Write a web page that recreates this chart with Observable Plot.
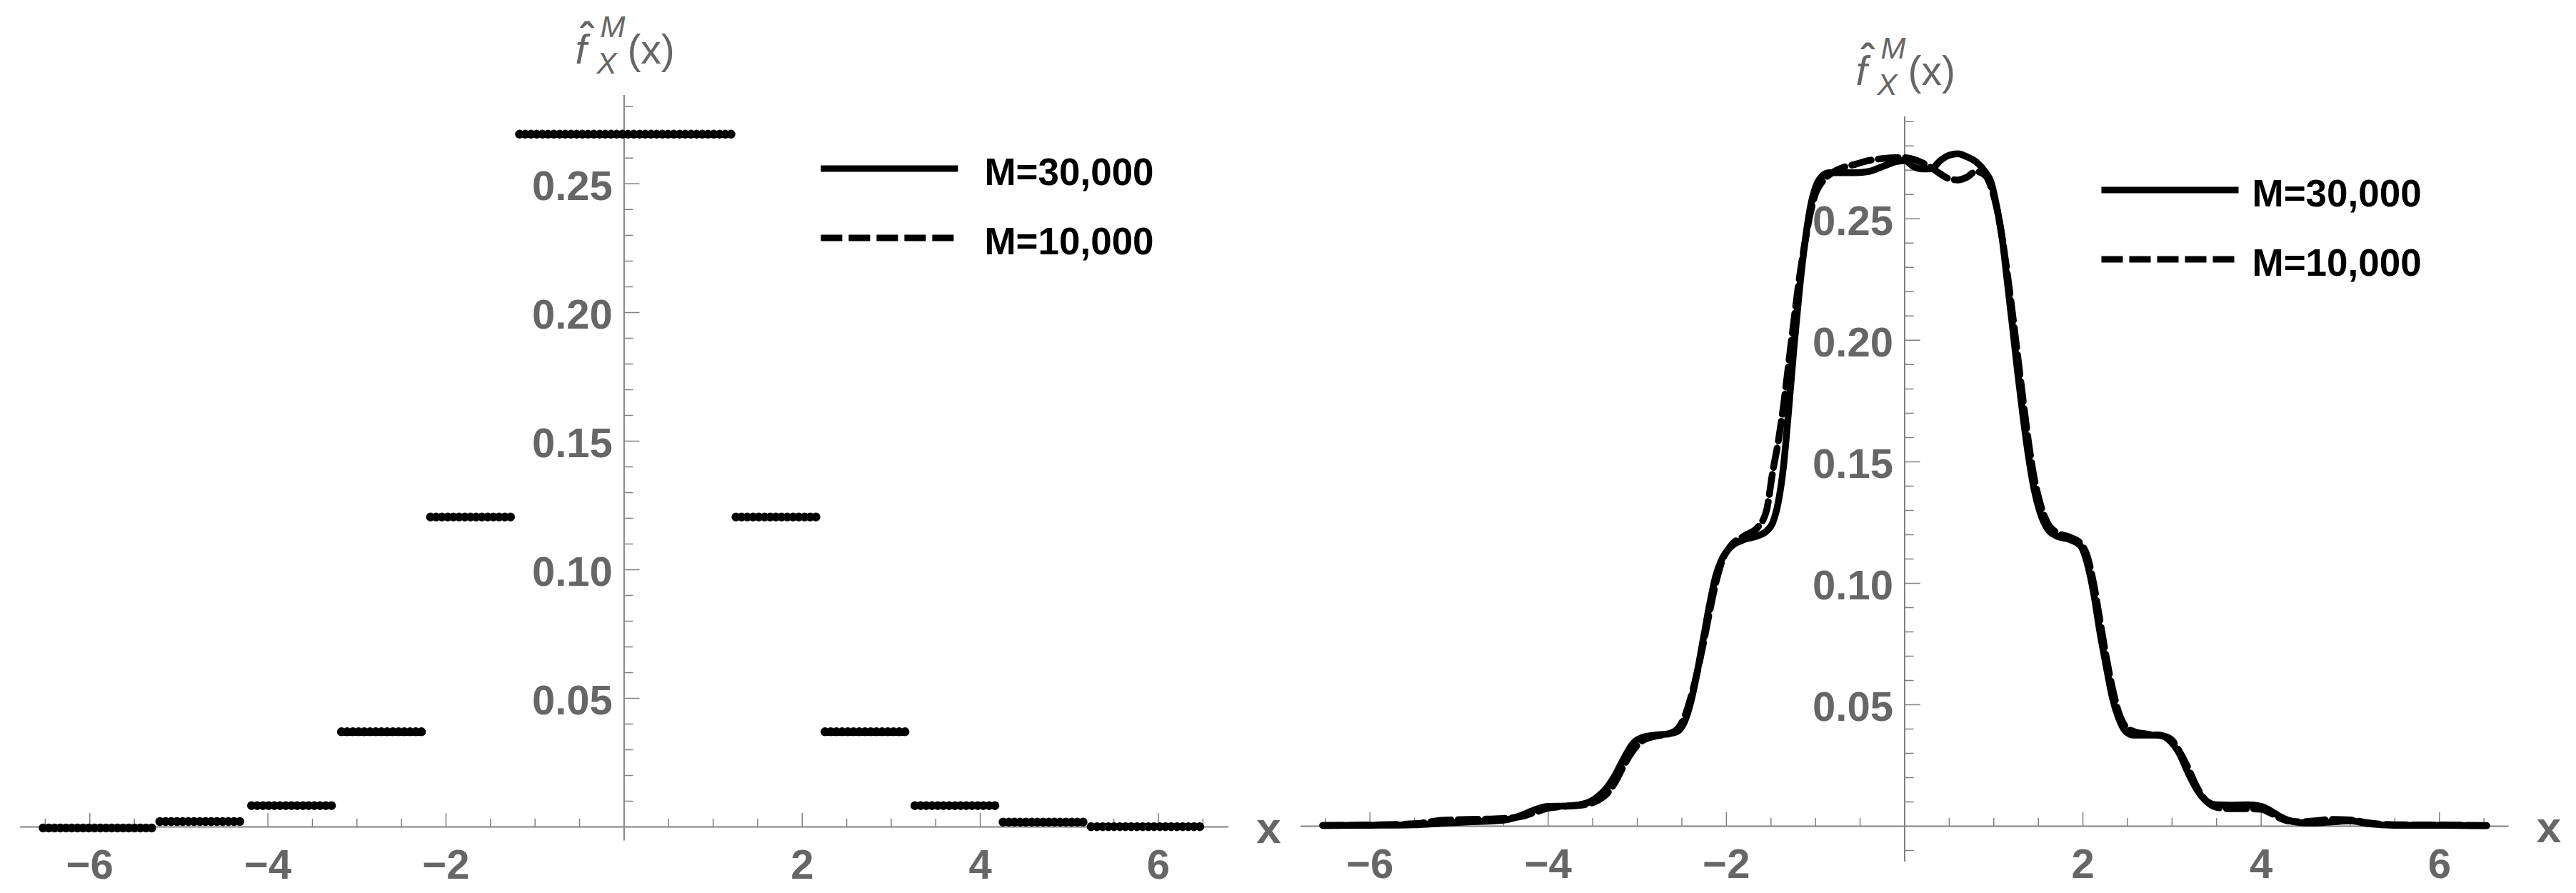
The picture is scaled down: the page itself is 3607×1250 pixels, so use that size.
<!DOCTYPE html>
<html>
<head>
<meta charset="utf-8">
<script src="https://cdn.jsdelivr.net/npm/d3@7"></script>
<script src="https://cdn.jsdelivr.net/npm/@observablehq/plot@0.6"></script>
<style>
  html, body { margin: 0; padding: 0; background: #ffffff; }
  #wrap { display: flex; width: 3607px; height: 1250px; background: #ffffff; }
  #wrap svg { display: block; }
</style>
</head>
<body>
<div id="wrap"></div>
<script>
// ---------------- data ----------------
// Left panel: piecewise-constant estimate, one row of dots per bin (first/last dot centre, height)
const stepStart  = [-6.52, -5.21, -4.18, -3.17, -2.17, -1.17, 1.26, 2.26, 3.27, 4.26, 5.25];
const stepEnd    = [-5.26, -4.27, -3.24, -2.25, -1.23,  1.21, 2.21, 3.17, 4.19, 5.19, 6.48];
const stepHeight = [-0.0004, 0.0021, 0.0083, 0.0370, 0.1205, 0.2693, 0.1205, 0.0370, 0.0083, 0.0019, 0.0001];

// Right panel: smooth estimates for the two sample sizes
const xs = [-6.53, -6.0, -5.5, -5.2, -4.9, -4.6, -4.45, -4.3, -4.15, -4.0,
            -3.8, -3.6, -3.45, -3.35, -3.25, -3.15, -3.05, -2.95, -2.8, -2.65,
            -2.55, -2.47, -2.4, -2.33, -2.26, -2.19, -2.12, -2.05, -1.95, -1.8,
            -1.65, -1.55, -1.48, -1.42, -1.36, -1.3, -1.24, -1.18, -1.12, -1.06,
            -1.0, -0.93, -0.85, -0.7, -0.55, -0.4, -0.25, -0.1, 0.0, 0.1,
            0.2, 0.3, 0.4, 0.5, 0.6, 0.7, 0.8, 0.9, 0.97, 1.03,
            1.09, 1.15, 1.21, 1.27, 1.33, 1.39, 1.45, 1.52, 1.6, 1.7,
            1.85, 1.97, 2.05, 2.12, 2.19, 2.26, 2.33, 2.4, 2.48, 2.57,
            2.7, 2.85, 2.98, 3.08, 3.18, 3.28, 3.38, 3.5, 3.65, 3.85,
            4.0, 4.1, 4.2, 4.3, 4.45, 4.6, 4.8, 5.0, 5.2, 5.5,
            6.0, 6.53];
const y30000 = [0.0003, 0.0004, 0.0006, 0.0012, 0.0018, 0.0022, 0.0028, 0.0045, 0.0068, 0.0082,
                0.0083, 0.0092, 0.0120, 0.0155, 0.0210, 0.0280, 0.0340, 0.0365, 0.0375, 0.0380,
                0.0390, 0.0430, 0.0510, 0.0630, 0.0770, 0.0910, 0.1030, 0.1100, 0.1150, 0.1180,
                0.1195, 0.1215, 0.1250, 0.1330, 0.1480, 0.1720, 0.1980, 0.2210, 0.2400, 0.2545,
                0.2630, 0.2675, 0.2690, 0.2690, 0.2690, 0.2695, 0.2715, 0.2735, 0.2740, 0.2715,
                0.2705, 0.2706, 0.2740, 0.2762, 0.2768, 0.2755, 0.2735, 0.2695, 0.2650, 0.2555,
                0.2430, 0.2245, 0.2055, 0.1860, 0.1680, 0.1520, 0.1390, 0.1290, 0.1225, 0.1195,
                0.1180, 0.1155, 0.1080, 0.0960, 0.0800, 0.0660, 0.0530, 0.0445, 0.0390, 0.0375,
                0.0375, 0.0375, 0.0350, 0.0300, 0.0220, 0.0150, 0.0105, 0.0088, 0.0087, 0.0088,
                0.0082, 0.0065, 0.0042, 0.0025, 0.0014, 0.0013, 0.0018, 0.0022, 0.0010, 0.0004,
                0.0004, 0.0002];
const y10000 = [0.0003, 0.0005, 0.0010, 0.0024, 0.0028, 0.0030, 0.0033, 0.0040, 0.0057, 0.0074,
                0.0082, 0.0088, 0.0105, 0.0130, 0.0180, 0.0250, 0.0310, 0.0350, 0.0370, 0.0380,
                0.0400, 0.0450, 0.0530, 0.0630, 0.0750, 0.0880, 0.1000, 0.1090, 0.1155, 0.1195,
                0.1230, 0.1300, 0.1460, 0.1580, 0.1730, 0.1910, 0.2090, 0.2260, 0.2400, 0.2520,
                0.2605, 0.2650, 0.2680, 0.2710, 0.2725, 0.2740, 0.2748, 0.2752, 0.2752, 0.2745,
                0.2730, 0.2710, 0.2685, 0.2665, 0.2660, 0.2672, 0.2695, 0.2680, 0.2630, 0.2550,
                0.2430, 0.2280, 0.2110, 0.1930, 0.1750, 0.1580, 0.1440, 0.1330, 0.1250, 0.1210,
                0.1190, 0.1165, 0.1110, 0.1000, 0.0850, 0.0700, 0.0570, 0.0470, 0.0410, 0.0390,
                0.0380, 0.0375, 0.0360, 0.0310, 0.0240, 0.0160, 0.0105, 0.0078, 0.0072, 0.0072,
                0.0070, 0.0055, 0.0035, 0.0022, 0.0018, 0.0022, 0.0028, 0.0026, 0.0014, 0.0006,
                0.0005, 0.0003];

// ticks and labels
const xMajorTicks = [-6, -4, -2, 2, 4, 6];
const xMinorTicks = [-6.5, -5.5, -5, -4.5, -3.5, -3, -2.5, -1.5, -1, -0.5, 0.5, 1, 1.5, 2.5, 3, 3.5, 4.5, 5, 5.5, 6.5];
const yMajorTicks = [0.05, 0.10, 0.15, 0.20, 0.25];
const yMinorLeft  = [0.01, 0.02, 0.03, 0.04, 0.06, 0.07, 0.08, 0.09, 0.11, 0.12, 0.13, 0.14, 0.16, 0.17, 0.18, 0.19, 0.21, 0.22, 0.23, 0.24, 0.26, 0.27, 0.28];
const yMinorRight = [-0.01, 0.01, 0.02, 0.03, 0.04, 0.06, 0.07, 0.08, 0.09, 0.11, 0.12, 0.13, 0.14, 0.16, 0.17, 0.18, 0.19, 0.21, 0.22, 0.23, 0.24, 0.26, 0.27, 0.28, 0.29];
const seriesNames = ["M=30,000", "M=10,000"];

// ---------------- styling ----------------
const FONT = "'Liberation Sans', Arial, sans-serif";
const AXIS = "#808080";
const LABEL = "#666666";
const tickShape = { draw(ctx, l) { ctx.moveTo(0, 0); ctx.lineTo(0, -l); } };
const fmtX = d => (d < 0 ? "\u2212" + Math.abs(d) : String(d));
const fmtY = d => d.toFixed(2);

function axesMarks(xMax, yMinor) {
  return [
    Plot.ruleY([0], { stroke: AXIS, strokeWidth: 2 }),
    Plot.ruleX([0], { stroke: AXIS, strokeWidth: 2 }),
    Plot.vector(xMinorTicks, { x: d => d, y: () => 0, length: 11, rotate: 0, anchor: "start", shape: tickShape, stroke: AXIS, strokeWidth: 1.5 }),
    Plot.vector(xMajorTicks, { x: d => d, y: () => 0, length: 19, rotate: 0, anchor: "start", shape: tickShape, stroke: AXIS, strokeWidth: 1.5 }),
    Plot.vector(yMinor, { x: () => 0, y: d => d, length: 12, rotate: 90, anchor: "start", shape: tickShape, stroke: AXIS, strokeWidth: 1.5 }),
    Plot.vector(yMajorTicks, { x: () => 0, y: d => d, length: 21, rotate: 90, anchor: "start", shape: tickShape, stroke: AXIS, strokeWidth: 1.5 }),
    Plot.text(xMajorTicks, { x: d => d, y: () => 0, text: fmtX, dy: 54, fontSize: 58, fontWeight: "bold", fill: LABEL, lineAnchor: "middle" }),
    Plot.text(yMajorTicks, { x: () => 0, y: d => d, text: fmtY, dx: -16, dy: 4, textAnchor: "end", fontSize: 58, fontWeight: "bold", fill: LABEL, lineAnchor: "middle" }),
    Plot.text(["x"], { x: () => xMax, y: () => 0, text: d => d, dx: 56, dy: 3, fontSize: 62, fontWeight: "bold", fill: LABEL, lineAnchor: "middle" })
  ];
}

function decorate(svg, textOffset) {
  const x0 = svg.scale("x").apply(0);
  const yTop = svg.scale("y").range[1];
  const s = d3.select(svg);
  // y-axis label  f̂_X^M(x)
  const g = s.append("g").attr("fill", LABEL).attr("font-family", FONT).attr("text-anchor", "start");
  g.append("text").attr("x", x0 - 68).attr("y", yTop - 44).attr("font-size", 58).attr("font-style", "italic").text("f");
  g.append("text").attr("x", x0 - 52).attr("y", yTop - 62).attr("font-size", 56).attr("text-anchor", "middle").attr("font-weight", "bold").text("\u02C6");
  g.append("text").attr("x", x0 - 33).attr("y", yTop - 81).attr("font-size", 42).attr("font-style", "italic").text("M");
  g.append("text").attr("x", x0 - 38).attr("y", yTop - 30).attr("font-size", 42).attr("font-style", "italic").text("X");
  g.append("text").attr("x", x0 + 5).attr("y", yTop - 44).attr("font-size", 57).text("(x)");
  // legend
  const lg = s.append("g").attr("font-family", FONT).attr("text-anchor", "start");
  const rows = [{ y: yTop + 103, dash: null }, { y: yTop + 200, dash: "30,9" }];
  rows.forEach((r, i) => {
    lg.append("line").attr("x1", x0 + 276).attr("x2", x0 + 468).attr("y1", r.y).attr("y2", r.y)
      .attr("stroke", "#000").attr("stroke-width", 9).attr("stroke-dasharray", r.dash);
    lg.append("text").attr("x", x0 + textOffset).attr("y", r.y + 4).attr("dy", "0.36em")
      .attr("font-size", 53).attr("font-weight", "bold").attr("fill", "#000").text(seriesNames[i]);
  });
}

// ---------------- left panel ----------------
const steps = stepHeight.map((h, i) => ({ x1: stepStart[i], x2: stepEnd[i], y: h }));
const left = Plot.plot({
  width: 1800, height: 1250,
  marginLeft: 28, marginRight: 80, marginTop: 133, marginBottom: 73.5,
  x: { domain: [-6.78, 6.79], axis: null },
  y: { domain: [-0.0054, 0.2844], axis: null },
  style: { fontFamily: FONT, background: "#fff", overflow: "visible" },
  marks: [
    ...axesMarks(6.79, yMinorLeft),
    Plot.ruleY(steps, { x1: "x1", x2: "x2", y: "y", stroke: "#000", strokeWidth: 12.5, strokeLinecap: "round", strokeDasharray: "0,8" })
  ]
});
decorate(left, 505);

// ---------------- right panel ----------------
const rows30 = xs.map((x, i) => ({ x, y: y30000[i] }));
const rows10 = xs.map((x, i) => ({ x, y: y10000[i] }));
const right = Plot.plot({
  width: 1807, height: 1250,
  marginLeft: 21, marginRight: 94.4, marginTop: 163, marginBottom: 44,
  x: { domain: [-6.775, 6.78], axis: null },
  y: { domain: [-0.0147, 0.292], axis: null },
  style: { fontFamily: FONT, background: "#fff", overflow: "visible" },
  marks: [
    ...axesMarks(6.78, yMinorRight),
    Plot.line(rows10, { x: "x", y: "y", stroke: "#000", strokeWidth: 9.5, strokeDasharray: "28,10", curve: "monotone-x" }),
    Plot.line(rows30, { x: "x", y: "y", stroke: "#000", strokeWidth: 9.5, curve: "monotone-x" })
  ]
});
decorate(right, 487);

const wrap = document.getElementById("wrap");
wrap.appendChild(left);
wrap.appendChild(right);
</script>
</body>
</html>
